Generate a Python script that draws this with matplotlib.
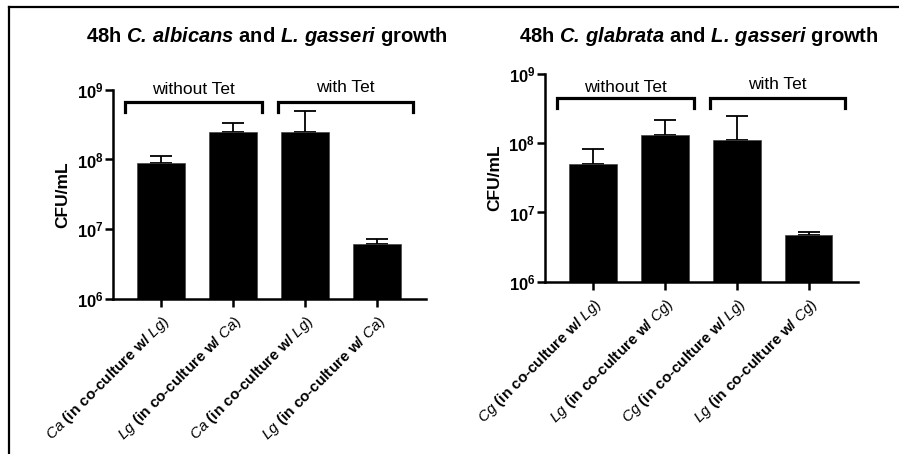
import matplotlib
matplotlib.use("Agg")
import matplotlib.pyplot as plt
from matplotlib.lines import Line2D

plt.rcParams['font.family'] = 'Liberation Sans'
plt.rcParams['mathtext.fontset'] = 'custom'
plt.rcParams['mathtext.rm'] = 'Liberation Sans'
plt.rcParams['mathtext.it'] = 'Liberation Sans:italic'
plt.rcParams['mathtext.bf'] = 'Liberation Sans:bold'
plt.rcParams['mathtext.bfit'] = 'Liberation Sans:italic:bold'

# data (CFU/mL, mean and upper error)
labels_ca = [r"$\mathit{Ca}$ (in co-culture w/ $\mathit{Lg)}$",
             r"$\mathit{Lg}$ (in co-culture w/ $\mathit{Ca)}$",
             r"$\mathit{Ca}$ (in co-culture w/ $\mathit{Lg)}$",
             r"$\mathit{Lg}$ (in co-culture w/ $\mathit{Ca)}$"]
means_ca = [8.8e7, 2.5e8, 2.45e8, 6.0e6]
tops_ca = [1.11e8, 3.4e8, 5.0e8, 7.2e6]

labels_cg = [r"$\mathit{Cg}$ (in co-culture w/ $\mathit{Lg)}$",
             r"$\mathit{Lg}$ (in co-culture w/ $\mathit{Cg)}$",
             r"$\mathit{Cg}$ (in co-culture w/ $\mathit{Lg)}$",
             r"$\mathit{Lg}$ (in co-culture w/ $\mathit{Cg)}$"]
means_cg = [5.05e7, 1.31e8, 1.11e8, 4.75e6]
tops_cg = [8.3e7, 2.2e8, 2.5e8, 5.3e6]

groups = ["without Tet", "with Tet"]
yticks = [1e6, 1e7, 1e8, 1e9]
ytick_labels = [r"$\mathbf{10^{6}}$", r"$\mathbf{10^{7}}$", r"$\mathbf{10^{8}}$", r"$\mathbf{10^{9}}$"]

titles = [r"48h $\mathbfit{C.}\,\mathbfit{albicans}$ and $\mathbfit{L.}\,\mathbfit{gasseri}$ growth",
          r"48h $\mathbfit{C.}\,\mathbfit{glabrata}$ and $\mathbfit{L.}\,\mathbfit{gasseri}$ growth"]

fig = plt.figure(figsize=(8.99, 4.54), dpi=100)
ax1 = fig.add_axes([0.1257, 0.3425, 0.3478, 0.4593])
ax2 = fig.add_axes([0.6062, 0.3795, 0.3478, 0.4575])

# frame lines (top and left) of the original panel
fig.add_artist(Line2D([0.0095, 0.0095], [0, 0.985], transform=fig.transFigure, color='black', lw=1.6))
fig.add_artist(Line2D([0.0095, 1.0], [0.985, 0.985], transform=fig.transFigure, color='black', lw=1.6))


def draw_panel(ax, labels, means, tops, br_y, br_leg, txt_y):
    x = list(range(len(means)))
    errs = [t - m for t, m in zip(tops, means)]
    ax.bar(x, means, width=0.66, color='black', edgecolor='#444444', linewidth=0.5, zorder=2)
    ax.errorbar(x, means, yerr=[[0] * len(errs), errs], fmt='none', ecolor='black',
                elinewidth=1.3, capsize=8, capthick=1.3, zorder=1)
    ax.set_yscale('log')
    ax.set_ylim(1e6, 1e9)
    ax.set_xlim(-0.67, 3.68)
    ax.set_yticks(yticks)
    ax.set_yticklabels(ytick_labels, fontsize=12)
    ax.yaxis.set_minor_locator(matplotlib.ticker.NullLocator())
    ax.set_xticks(x)
    ax.set_xticklabels(labels, rotation=45, ha='right', rotation_mode='anchor',
                       fontsize=11, fontweight='bold')
    for sp in ['top', 'right']:
        ax.spines[sp].set_visible(False)
    for sp in ['left', 'bottom']:
        ax.spines[sp].set_linewidth(1.8)
    ax.tick_params(axis='both', length=6, width=1.8, direction='out', pad=1)
    ax.tick_params(axis='x', pad=4)
    ax.text(-0.16, 0.5, "CFU/mL", transform=ax.transAxes, rotation=90, ha='center',
            va='center', fontsize=12.5, fontweight='bold')

    # brackets for the two groups
    spans = [(-0.5, 1.4), (1.62, 3.5)]
    for (a, b), g, ty in zip(spans, groups, txt_y):
        ax.plot([a, a, b, b], [br_leg, br_y, br_y, br_leg], color='black', lw=2.3,
                clip_on=False, solid_joinstyle='miter')
        ax.text((a + b) / 2, ty, g, ha='center', va='center', fontsize=12.5, clip_on=False)


draw_panel(ax1, labels_ca, means_ca, tops_ca, 10 ** 8.82, 10 ** 8.69, [10 ** 9.01, 10 ** 9.03])
draw_panel(ax2, labels_cg, means_cg, tops_cg, 10 ** 8.65, 10 ** 8.51, [10 ** 8.81, 10 ** 8.855])

fig.text(267 / 899, 1 - 37 / 454, titles[0], ha='center', va='center', fontsize=14.5, fontweight='bold')
fig.text(699 / 899, 1 - 37 / 454, titles[1], ha='center', va='center', fontsize=14.5, fontweight='bold')

fig.savefig("out.png", dpi=100)
